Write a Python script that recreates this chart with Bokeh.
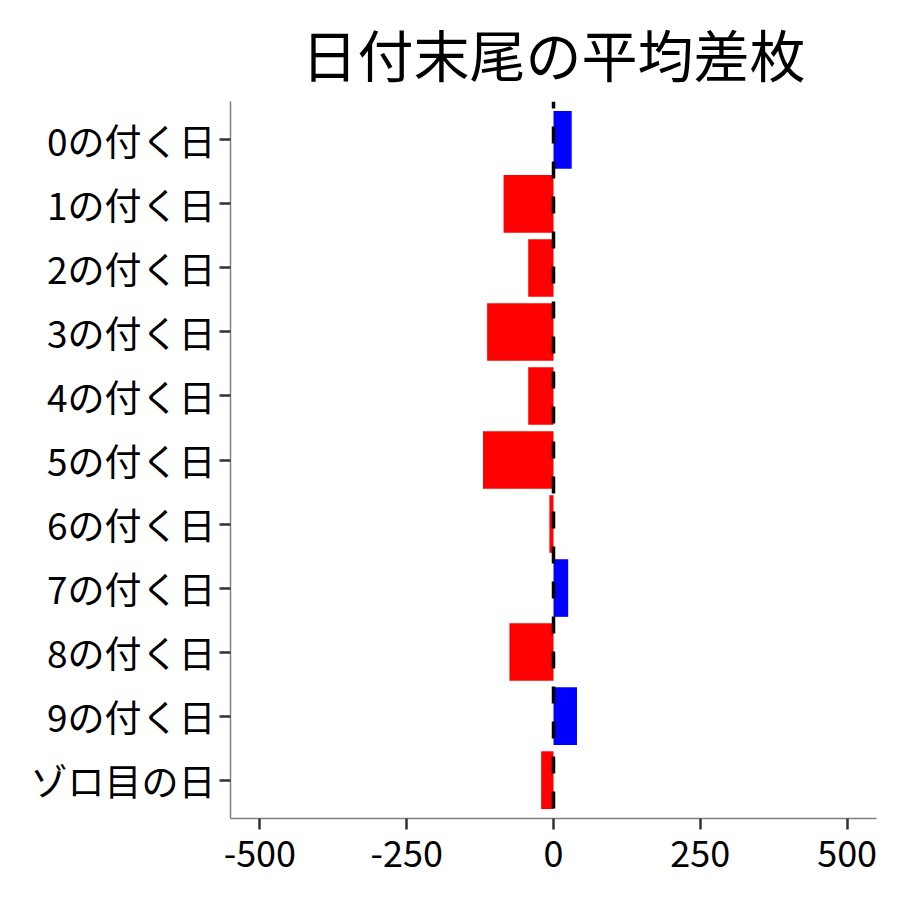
from bokeh.plotting import figure
from bokeh.models import FactorRange, Range1d, FixedTicker, Span, ColumnDataSource
from bokeh.embed import file_html
from bokeh.resources import INLINE

categories = ["0の付く日", "1の付く日", "2の付く日", "3の付く日", "4の付く日",
              "5の付く日", "6の付く日", "7の付く日", "8の付く日", "9の付く日", "ゾロ目の日"]
values = [31, -85, -43, -113, -43, -120, -7, 25, -75, 40, -21]
x_ticks = [-500, -250, 0, 250, 500]
x_tick_labels = ["-500", "-250", "0", "250", "500"]
title_text = "日付末尾の平均差枚"

colors = ["#0000FF" if v > 0 else "#FF0000" for v in values]
src = ColumnDataSource(dict(cat=categories, val=values,
                            zero=[0] * len(values), color=colors))

FONT = "Noto Sans CJK JP"

p = figure(width=884, height=884, output_backend="svg", toolbar_location=None,
           y_range=FactorRange(factors=list(reversed(categories)),
                               range_padding=0.1, range_padding_units="absolute"),
           x_range=Range1d(-550, 550),
           title=title_text,
           min_border_left=230, min_border_right=8,
           min_border_top=101, min_border_bottom=66)

p.hbar(y="cat", left="zero", right="val", height=0.9, color="color",
       line_color=None, source=src)

p.add_layout(Span(location=0, dimension="height", line_color="black",
                  line_width=3.5, line_dash="17 18", line_dash_offset=10))

p.title.text_font = FONT
p.title.text_font_size = "56px"
p.title.text_font_style = "normal"
p.title.align = "center"
p.title.text_color = "black"
p.title.standoff = 17

p.outline_line_color = None
p.xgrid.visible = False
p.ygrid.visible = False
p.background_fill_color = "white"
p.border_fill_color = "white"

for ax in (p.xaxis[0], p.yaxis[0]):
    ax.axis_line_color = "#7f7f7f"
    ax.axis_line_width = 1.5
    ax.major_tick_line_color = "#333333"
    ax.major_tick_line_width = 2.5
    ax.major_tick_out = 11
    ax.major_tick_in = 0
    ax.minor_tick_line_color = None
    ax.major_label_text_font = FONT
    ax.major_label_text_color = "black"

p.xaxis.major_label_text_font_size = "36px"
p.yaxis.major_label_text_font_size = "37px"
p.xaxis.major_label_standoff = 11
p.yaxis.major_label_standoff = 4

p.xaxis.ticker = FixedTicker(ticks=x_ticks)
p.xaxis.major_label_overrides = {t: s for t, s in zip(x_ticks, x_tick_labels)}

open("out.html", "w").write(file_html(p, INLINE))
